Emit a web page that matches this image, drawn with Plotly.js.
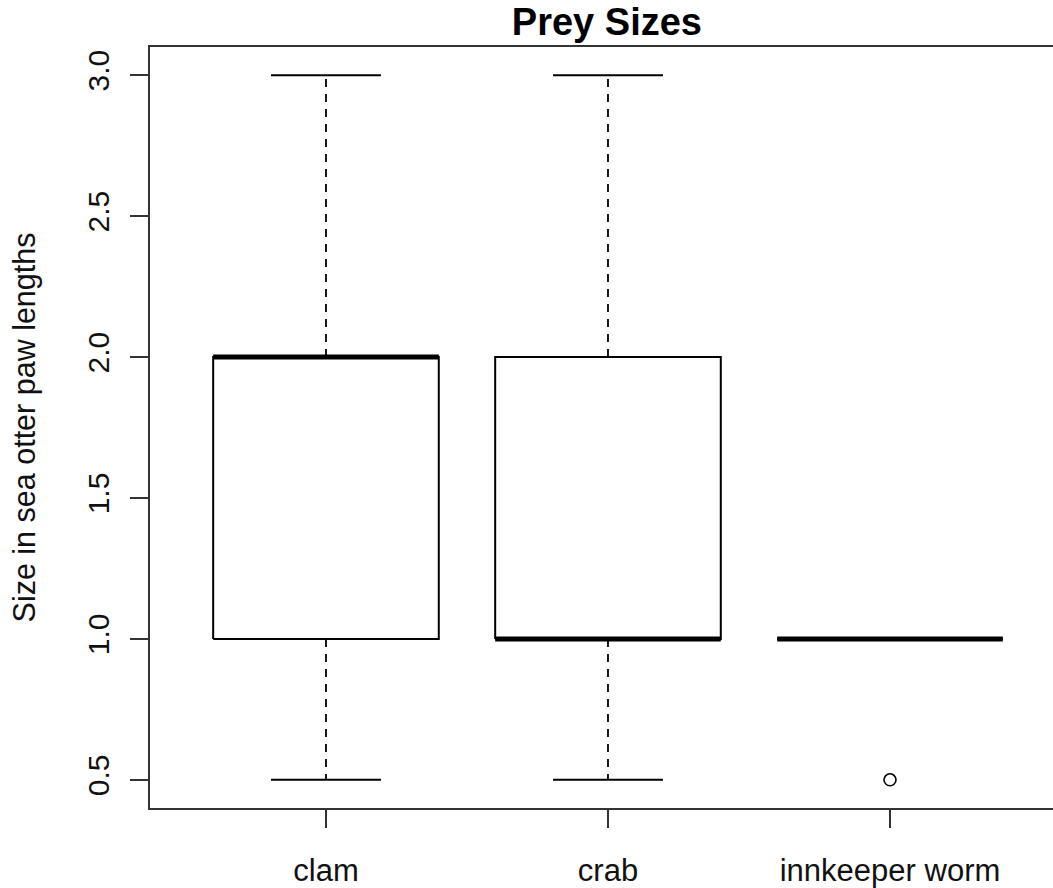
<!DOCTYPE html>
<html>
<head>
<meta charset="utf-8">
<script src="https://cdn.plot.ly/plotly-3.0.1.min.js"></script>
<style>html,body{margin:0;padding:0;background:#fff;}#chart{width:1053px;height:888px;}</style>
</head>
<body>
<div id="chart"></div>
<script>
// ---- data (boxplot statistics) ----
const categories = ["clam", "crab", "innkeeper worm"];
const lowerWhisker = [0.5, 0.5, 1.0];
const q1 = [1.0, 1.0, 1.0];
const median = [2.0, 1.0, 1.0];
const q3 = [2.0, 2.0, 1.0];
const upperWhisker = [3.0, 3.0, 1.0];
const outlierCategories = ["innkeeper worm"];
const outlierValues = [0.5];
const yTickValues = [0.5, 1.0, 1.5, 2.0, 2.5, 3.0];

// ---- style ----
const HALF_BOX = 0.4;
const HALF_CAP = 0.195;
const FONT = "Liberation Sans, Arial, sans-serif";
const LINE = "#000";

const traces = [];
categories.forEach((c, i) => {
  const x = i + 1;
  // box outline
  traces.push({
    type: "scatter", mode: "lines", hoverinfo: "skip", showlegend: false,
    x: [x - HALF_BOX, x + HALF_BOX, x + HALF_BOX, x - HALF_BOX, x - HALF_BOX],
    y: [q1[i], q1[i], q3[i], q3[i], q1[i]],
    line: {color: LINE, width: 2}
  });
  // whiskers (dashed)
  traces.push({
    type: "scatter", mode: "lines", hoverinfo: "skip", showlegend: false,
    x: [x, x, null, x, x],
    y: [q3[i], upperWhisker[i], null, q1[i], lowerWhisker[i]],
    line: {color: LINE, width: 1.8, dash: "8px,7px"}
  });
  // staples
  traces.push({
    type: "scatter", mode: "lines", hoverinfo: "skip", showlegend: false,
    x: [x - HALF_CAP, x + HALF_CAP, null, x - HALF_CAP, x + HALF_CAP],
    y: [upperWhisker[i], upperWhisker[i], null, lowerWhisker[i], lowerWhisker[i]],
    line: {color: LINE, width: 2}
  });
  // median
  traces.push({
    type: "scatter", mode: "lines", hoverinfo: "skip", showlegend: false,
    x: [x - HALF_BOX, x + HALF_BOX],
    y: [median[i], median[i]],
    line: {color: LINE, width: 5}
  });
});
// outliers
traces.push({
  type: "scatter", mode: "markers", hoverinfo: "skip", showlegend: false,
  x: outlierCategories.map(c => categories.indexOf(c) + 1),
  y: outlierValues,
  marker: {symbol: "circle-open", size: 12, color: LINE, line: {width: 1.6, color: LINE}}
});

const layout = {
  width: 1053, height: 888,
  margin: {l: 150, r: 0, t: 47, b: 80},
  paper_bgcolor: "#fff", plot_bgcolor: "#fff",
  font: {family: FONT, color: "#000", size: 30},
  title: {
    text: "<b>Prey Sizes</b>",
    font: {family: FONT, size: 38, color: "#000"},
    x: 0.506, xref: "paper", xanchor: "center",
    y: 1 - 22 / 888, yref: "container", yanchor: "middle"
  },
  xaxis: {
    range: [0.376, 3.578],
    tickvals: categories.map((c, i) => i + 1),
    ticktext: categories,
    ticks: "outside", ticklen: 18, tickwidth: 2, tickcolor: "#333",
    showline: true, linecolor: "#333", linewidth: 2, mirror: true,
    showgrid: false, zeroline: false,
    tickfont: {family: FONT, size: 31, color: "#111"},
    ticklabelstandoff: 16
  },
  yaxis: {
    range: [0.4, 3.1],
    tickvals: yTickValues,
    ticktext: yTickValues.map(v => v.toFixed(1)),
    ticks: "outside", ticklen: 18, tickwidth: 2, tickcolor: "#333",
    tickangle: -90,
    showline: true, linecolor: "#333", linewidth: 2, mirror: false,
    showgrid: false, zeroline: false,
    tickfont: {family: FONT, size: 30, color: "#111"},
    ticklabelstandoff: 9,
    title: {text: "Size in sea otter paw lengths", font: {family: FONT, size: 30.5, color: "#111"}, standoff: 37}
  }
};

Plotly.newPlot("chart", traces, layout, {staticPlot: true, displayModeBar: false});
</script>
</body>
</html>
